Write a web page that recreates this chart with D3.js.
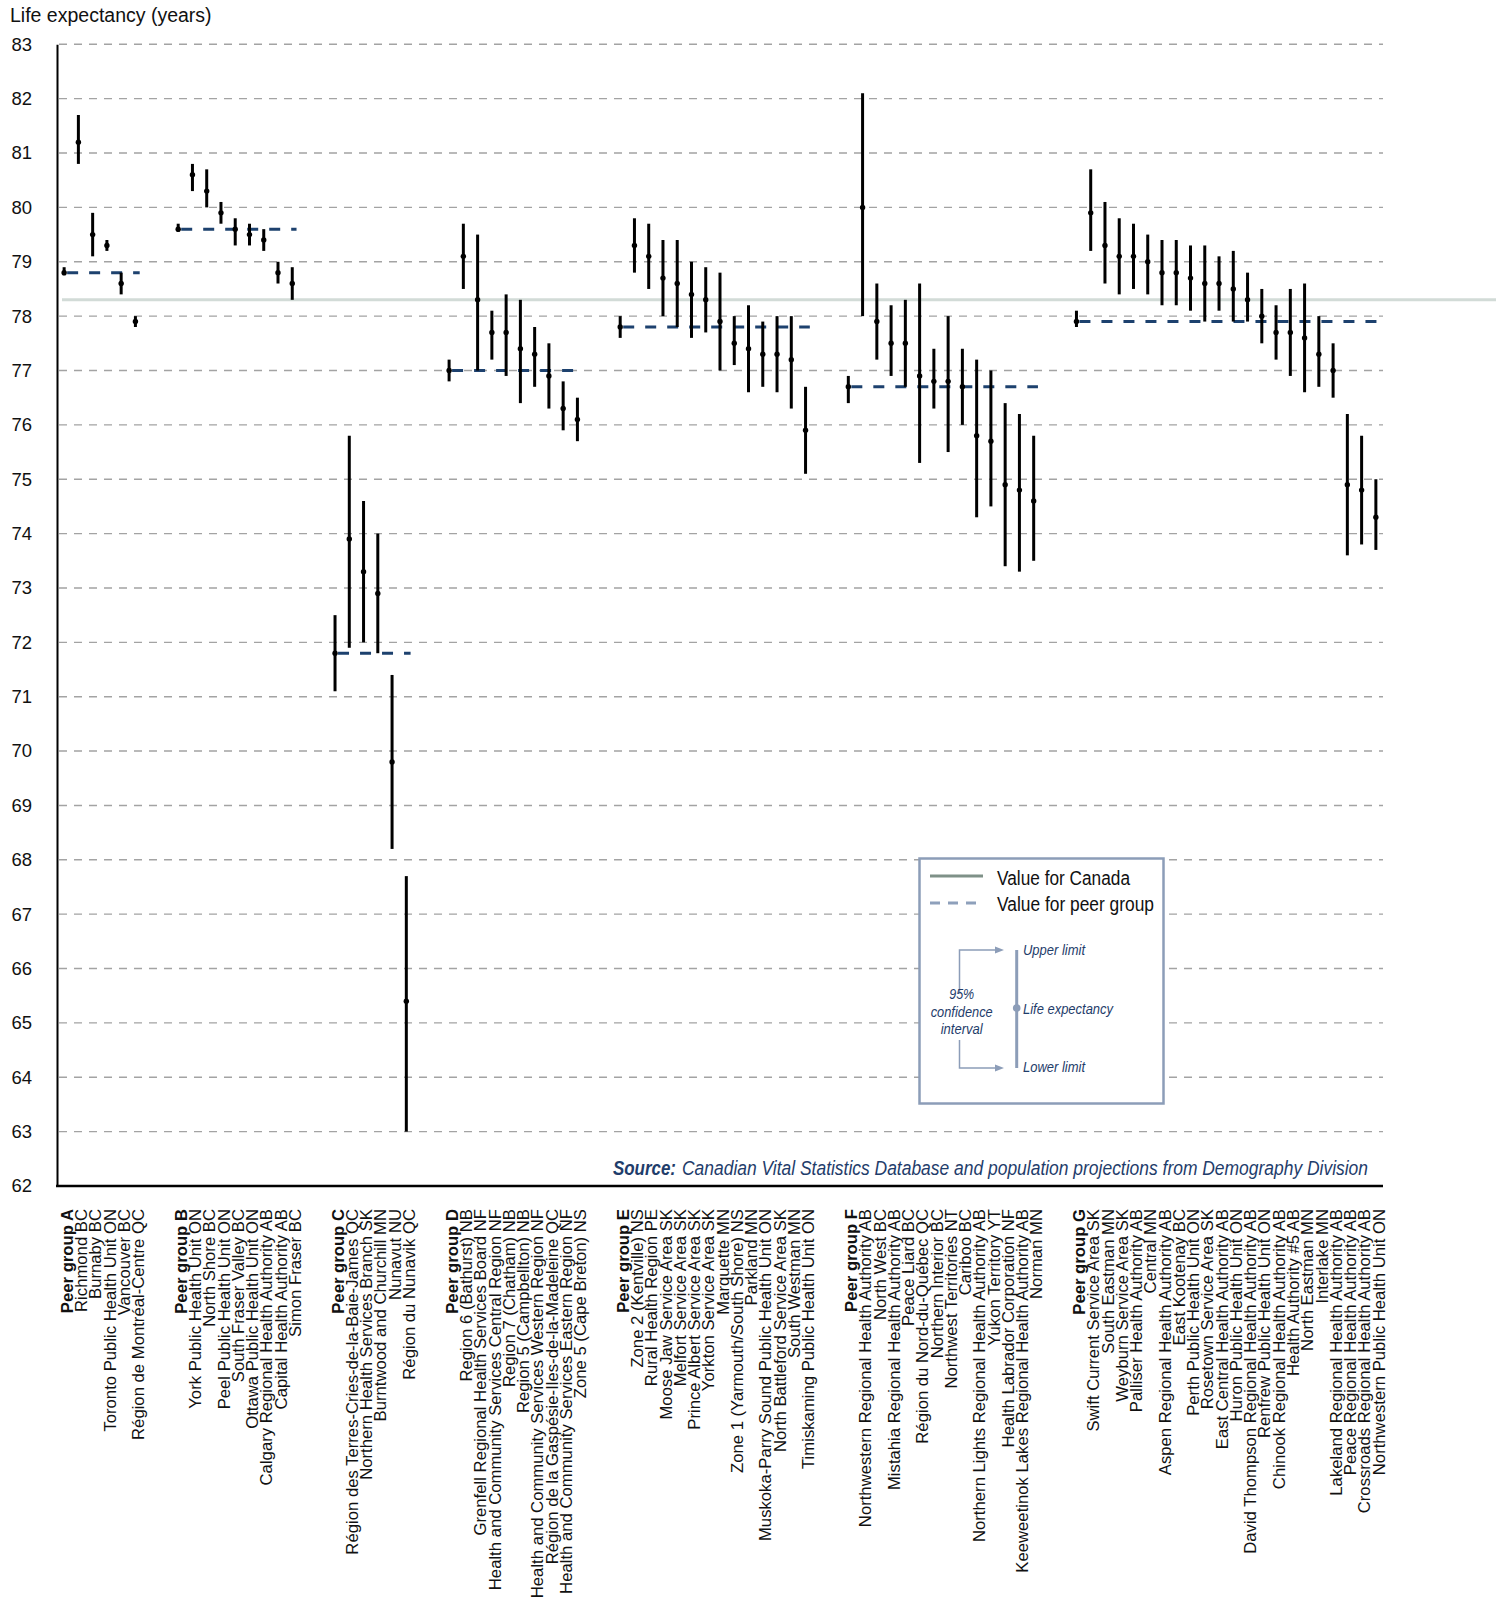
<!DOCTYPE html>
<html><head><meta charset="utf-8">
<script src="https://cdn.jsdelivr.net/npm/d3@7"></script>
<style>body{margin:0;background:#fff}svg{display:block}</style>
</head><body>
<svg id="chart" width="1496" height="1602"></svg>
<script>
// ---------------- DATA ----------------
const groupIds = ["A","B","C","D","E","F","G"];
const canadaValue = 78.3;
const yTicks = d3.range(62, 84);
const yAxisTitle = "Life expectancy (years)";
const sourceLabel = "Source:";
const sourceText = "Canadian Vital Statistics Database and population projections from Demography Division";

const namesA = ["Peer group A","Richmond BC","Burnaby BC","Toronto Public Health Unit ON","Vancouver BC","Région de Montréal-Centre QC"];
const leA = [78.8, 81.2, 79.5, 79.3, 78.6, 77.9];
const loA = [78.75, 80.8, 79.1, 79.2, 78.4, 77.8];
const hiA = [78.9, 81.7, 79.9, 79.4, 78.8, 78.0];

const namesB = ["Peer group B","York Public Health Unit ON","North Shore BC","Peel Public Health Unit ON","South Fraser Valley BC","Ottawa Public Health Unit ON","Calgary Regional Health Authority AB","Capital Health Authority AB","Simon Fraser BC"];
const leB = [79.6, 80.6, 80.3, 79.9, 79.6, 79.5, 79.4, 78.8, 78.6];
const loB = [79.55, 80.3, 80.0, 79.7, 79.3, 79.3, 79.2, 78.6, 78.3];
const hiB = [79.7, 80.8, 80.7, 80.1, 79.8, 79.7, 79.6, 79.0, 78.9];

const namesC = ["Peer group C","Région des Terres-Cries-de-la-Baie-James QC","Northern Health Services Branch SK","Burntwood and Churchill MN","Nunavut NU","Région du Nunavik QC"];
const leC = [71.8, 73.9, 73.3, 72.9, 69.8, 65.4];
const loC = [71.1, 71.9, 72.0, 71.8, 68.2, 63.0];
const hiC = [72.5, 75.8, 74.6, 74.0, 71.4, 67.7];

const namesD = ["Peer group D","Region 6 (Bathurst) NB","Grenfell Regional Health Services Board NF","Health and Community Services Central Region NF","Region 7 (Chatham) NB","Region 5 (Campbellton) NB","Health and Community Services Western Region NF","Région de la Gaspésie-Iles-de-la-Madeleine QC","Health and Community Services Eastern Region NF","Zone 5 (Cape Breton) NS"];
const leD = [77.0, 79.1, 78.3, 77.7, 77.7, 77.4, 77.3, 76.9, 76.3, 76.1];
const loD = [76.8, 78.5, 77.0, 77.2, 76.9, 76.4, 76.7, 76.3, 75.9, 75.7];
const hiD = [77.2, 79.7, 79.5, 78.1, 78.4, 78.3, 77.8, 77.5, 76.8, 76.5];

const namesE = ["Peer group E","Zone 2 (Kentville) NS","Rural Health Region PE","Moose Jaw Service Area SK","Melfort Service Area SK","Prince Albert Service Area SK","Yorkton Service Area SK","Marquette MN","Zone 1 (Yarmouth/South Shore) NS","Parkland MN","Muskoka-Parry Sound Public Health Unit ON","North Battleford Service Area SK","South Westman MN","Timiskaming Public Health Unit ON"];
const leE = [77.8, 79.3, 79.1, 78.7, 78.6, 78.4, 78.3, 77.9, 77.5, 77.4, 77.3, 77.3, 77.2, 75.9];
const loE = [77.6, 78.8, 78.5, 78.0, 77.8, 77.6, 77.7, 77.0, 77.1, 76.6, 76.7, 76.6, 76.3, 75.1];
const hiE = [78.0, 79.8, 79.7, 79.4, 79.4, 79.0, 78.9, 78.8, 78.0, 78.2, 77.9, 78.0, 78.0, 76.7];

const namesF = ["Peer group F","Northwestern Regional Health Authority AB","North West BC","Mistahia Regional Health Authority AB","Peace Liard BC","Région du Nord-du-Québec QC","Northern Interior BC","Northwest Territories NT","Cariboo BC","Northern Lights Regional Health Authority AB","Yukon Territory YT","Health Labrador Corporation NF","Keeweetinok Lakes Regional Health Authority AB","Norman MN"];
const leF = [76.7, 80.0, 77.9, 77.5, 77.5, 76.9, 76.8, 76.8, 76.7, 75.8, 75.7, 74.9, 74.8, 74.6];
const loF = [76.4, 78.0, 77.2, 76.9, 76.7, 75.3, 76.3, 75.5, 76.0, 74.3, 74.5, 73.4, 73.3, 73.5];
const hiF = [76.9, 82.1, 78.6, 78.2, 78.3, 78.6, 77.4, 78.0, 77.4, 77.2, 77.0, 76.4, 76.2, 75.8];

const namesG = ["Peer group G","Swift Current Service Area SK","South Eastman MN","Weyburn Service Area SK","Palliser Health Authority AB","Central MN","Aspen Regional Health Authority AB","East Kootenay BC","Perth Public Health Unit ON","Rosetown Service Area SK","East Central Health Authority AB","Huron Public Health Unit ON","David Thompson Regional Health Authority AB","Renfrew Public Health Unit ON","Chinook Regional Health Authority AB","Health Authority #5 AB","North Eastman MN","Interlake MN","Lakeland Regional Health Authority AB","Peace Regional Health Authority AB","Crossroads Regional Health Authority AB","Northwestern Public Health Unit ON"];
const leG = [77.9, 79.9, 79.3, 79.1, 79.1, 79.0, 78.8, 78.8, 78.7, 78.6, 78.6, 78.5, 78.3, 78.0, 77.7, 77.7, 77.6, 77.3, 77.0, 74.9, 74.8, 74.3];
const loG = [77.8, 79.2, 78.6, 78.4, 78.5, 78.4, 78.2, 78.2, 78.1, 77.9, 78.1, 77.9, 77.9, 77.5, 77.2, 76.9, 76.6, 76.7, 76.5, 73.6, 73.8, 73.7];
const hiG = [78.1, 80.7, 80.1, 79.8, 79.7, 79.5, 79.4, 79.4, 79.3, 79.3, 79.1, 79.2, 78.8, 78.5, 78.2, 78.5, 78.6, 78.0, 77.5, 76.2, 75.8, 75.0];

const legendCanada = "Value for Canada";
const legendPeer = "Value for peer group";
const legendUpper = "Upper limit";
const legendLE = "Life expectancy";
const legendLower = "Lower limit";
const legendCI = ["95%","confidence","interval"];

// ---------------- BUILD ----------------
(function () {
const groupsRaw = [
  [namesA, leA, loA, hiA],[namesB, leB, loB, hiB],[namesC, leC, loC, hiC],
  [namesD, leD, loD, hiD],[namesE, leE, loE, hiE],[namesF, leF, loF, hiF],[namesG, leG, loG, hiG]
];
const keys = [];
const items = [];
const groups = [];
groupsRaw.forEach(([names, le, lo, hi], gi) => {
  if (gi > 0) { keys.push("gap" + gi + "a"); keys.push("gap" + gi + "b"); }
  const gItems = names.map((n, i) => ({key: groupIds[gi] + i, name: n, le: le[i], lo: lo[i], hi: hi[i], peer: i === 0}));
  gItems.forEach(d => { keys.push(d.key); items.push(d); });
  groups.push({id: groupIds[gi], value: le[0], first: gItems[0].key, last: gItems[gItems.length - 1].key});
});

const pLeft = 57, pRight = 1383, pTop = 44.3, pBottom = 1186;
const x = d3.scaleBand().domain(keys).range([pLeft, pRight]).padding(0);
const bw = x.bandwidth();
const cx = k => x(k) + bw / 2;
const y = d3.scaleLinear().domain([62, 83]).range([pBottom, pTop]);

const svg = d3.select("#chart");
const FONT = "'Liberation Sans', Arial, Helvetica, sans-serif";
const NARROW = "'Liberation Sans Narrow', 'Arial Narrow', 'Liberation Sans', Arial, sans-serif";
const NAVY = "#1f3d6b";

// gridlines
svg.append("g").selectAll("line").data(yTicks.filter(t => t > 62)).join("line")
  .attr("x1", pLeft + 2).attr("x2", pRight)
  .attr("y1", d => y(d)).attr("y2", d => y(d))
  .attr("stroke", "#a3a3a3").attr("stroke-width", 1.4).attr("stroke-dasharray", "8,7");

// Canada line
svg.append("line")
  .attr("x1", pLeft + 5).attr("x2", 1496)
  .attr("y1", y(canadaValue)).attr("y2", y(canadaValue))
  .attr("stroke", "#d2dbd7").attr("stroke-width", 3);

// peer group lines
svg.append("g").selectAll("line").data(groups).join("line")
  .attr("x1", d => cx(d.first) + 3).attr("x2", d => cx(d.last) + bw * 0.3)
  .attr("y1", d => y(d.value)).attr("y2", d => y(d.value))
  .attr("stroke", "#1d416e").attr("stroke-width", 3).attr("stroke-dasharray", "11,11");

// error bars
svg.append("g").selectAll("line").data(items).join("line")
  .attr("x1", d => cx(d.key)).attr("x2", d => cx(d.key))
  .attr("y1", d => y(d.hi)).attr("y2", d => y(d.lo))
  .attr("stroke", "#000").attr("stroke-width", 3);
svg.append("g").selectAll("circle").data(items).join("circle")
  .attr("cx", d => cx(d.key)).attr("cy", d => y(d.le)).attr("r", 2.7).attr("fill", "#000");

// y axis
const yAxis = svg.append("g").attr("transform", `translate(${pLeft},0)`)
  .call(d3.axisLeft(y).tickValues(yTicks).tickSize(0).tickSizeOuter(0).tickPadding(25));
yAxis.select(".domain").attr("stroke", "#000").attr("stroke-width", 2);
yAxis.selectAll("text").attr("font-family", FONT).attr("font-size", 18.5).attr("fill", "#111");

// x axis line
svg.append("line").attr("x1", pLeft - 1).attr("x2", pRight).attr("y1", pBottom).attr("y2", pBottom)
  .attr("stroke", "#000").attr("stroke-width", 2.6);

// y title
svg.append("text").attr("x", 10).attr("y", 22).attr("font-family", FONT).attr("font-size", 19.5)
  .attr("fill", "#111").text(yAxisTitle);

// category labels
svg.append("g").selectAll("text").data(items).join("text")
  .attr("transform", d => `translate(${cx(d.key)},1209) rotate(-90)`)
  .attr("dy", "0.52em").attr("text-anchor", "end")
  .attr("font-family", FONT).attr("font-size", 16.7)
  .attr("font-weight", d => d.peer ? "bold" : "normal").attr("fill", "#111")
  .text(d => d.name);

// source
svg.append("text").attr("x", 613).attr("y", 1175)
  .attr("font-family", NARROW).attr("font-size", 20).attr("font-style", "italic").attr("font-weight", "bold")
  .attr("fill", NAVY).attr("textLength", 63).attr("lengthAdjust", "spacingAndGlyphs").text(sourceLabel);
svg.append("text").attr("x", 682).attr("y", 1175)
  .attr("font-family", NARROW).attr("font-size", 20).attr("font-style", "italic")
  .attr("fill", NAVY).attr("textLength", 686).attr("lengthAdjust", "spacingAndGlyphs").text(sourceText);

// legend
const lg = svg.append("g");
lg.append("rect").attr("x", 919.5).attr("y", 858.5).attr("width", 244).attr("height", 245)
  .attr("fill", "#fff").attr("stroke", "#8c9db8").attr("stroke-width", 2.5);
lg.append("line").attr("x1", 930).attr("x2", 983).attr("y1", 876).attr("y2", 876)
  .attr("stroke", "#7f9188").attr("stroke-width", 3);
lg.append("line").attr("x1", 930).attr("x2", 983).attr("y1", 903).attr("y2", 903)
  .attr("stroke", "#8ea0bb").attr("stroke-width", 3).attr("stroke-dasharray", "10,8");
lg.append("text").attr("x", 997).attr("y", 885).attr("font-family", NARROW).attr("font-size", 20)
  .attr("fill", "#111").attr("textLength", 133).attr("lengthAdjust", "spacingAndGlyphs").text(legendCanada);
lg.append("text").attr("x", 997).attr("y", 911).attr("font-family", NARROW).attr("font-size", 20)
  .attr("fill", "#111").attr("textLength", 157).attr("lengthAdjust", "spacingAndGlyphs").text(legendPeer);

const LB = "#8c9db8";
lg.append("line").attr("x1", 1016.7).attr("x2", 1016.7).attr("y1", 950).attr("y2", 1068)
  .attr("stroke", LB).attr("stroke-width", 3);
lg.append("circle").attr("cx", 1016.7).attr("cy", 1008).attr("r", 3.8).attr("fill", LB);
lg.append("path").attr("d", "M996,950 H959.5 V992 M959.5,1040 V1068 H996")
  .attr("fill", "none").attr("stroke", LB).attr("stroke-width", 1.5);
lg.append("path").attr("d", "M995,946.5 L1004,950 L995,953.5 Z M995,1064.5 L1004,1068 L995,1071.5 Z").attr("fill", LB);

const smallItalic = (t, xx, yy, len, anchor) => lg.append("text").attr("x", xx).attr("y", yy)
  .attr("font-family", NARROW).attr("font-size", 14.5).attr("font-style", "italic").attr("fill", NAVY)
  .attr("text-anchor", anchor || "start").attr("textLength", len).attr("lengthAdjust", "spacingAndGlyphs").text(t);
smallItalic(legendUpper, 1023, 955, 62);
smallItalic(legendLE, 1023, 1014, 90);
smallItalic(legendLower, 1023, 1072, 62);
smallItalic(legendCI[0], 961.7, 999, 25, "middle");
smallItalic(legendCI[1], 961.7, 1016.5, 62, "middle");
smallItalic(legendCI[2], 961.7, 1033.5, 42, "middle");
})();
</script>
</body></html>
